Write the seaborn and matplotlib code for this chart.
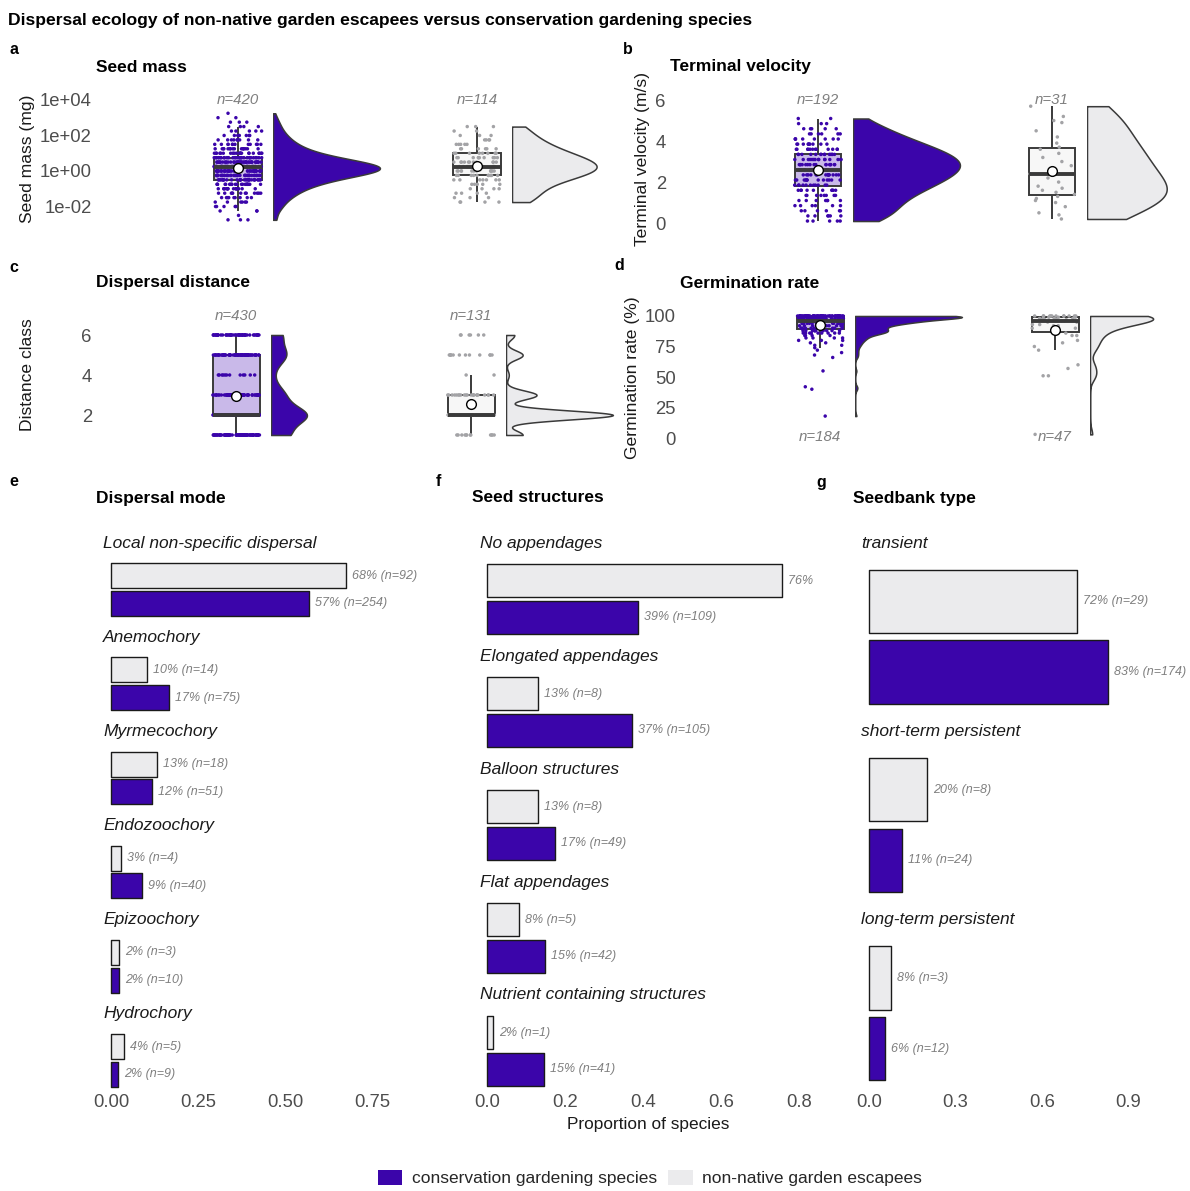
import numpy as np
import pandas as pd
import matplotlib.pyplot as plt
import matplotlib.transforms as mtransforms
from matplotlib.patches import Patch
import seaborn as sns

W, H = 1190, 1191

PURPLE = "#3B05AA"
PURPLE_BOX = "#C9B9E9"
GREY = "#EBEBED"
GREY_BOX = "#F7F7F7"
GREY_PT = "#A3A3A6"
EDGE = "#3A3A3A"
TICK = "#4D4D4D"
NCOL = "#7F7F7F"

GROUPS = ["conservation gardening species", "non-native garden escapees"]

# ---------------- data ----------------
# a: seed mass, log10(mg) bin centres and number of species per bin
mass_cons_bins = [-2.75, -2.5, -2.25, -2.0, -1.75, -1.5, -1.25, -1.0, -0.75, -0.5, -0.25, 0.0,
                  0.25, 0.5, 0.75, 1.0, 1.25, 1.5, 1.75, 2.0, 2.25, 2.5, 2.75, 3.0, 3.25]
mass_cons_counts = [3, 1, 3, 5, 6, 9, 12, 16, 22, 30, 42, 55, 58, 45, 32, 22, 16, 12, 9, 7, 5, 4, 3, 2, 1]
mass_alien_bins = [-1.75, -1.5, -1.25, -1.0, -0.75, -0.5, -0.25, 0.0, 0.25, 0.5, 0.75, 1.0,
                   1.25, 1.5, 1.75, 2.0, 2.25, 2.5]
mass_alien_counts = [4, 3, 4, 4, 5, 7, 10, 12, 13, 11, 10, 8, 6, 5, 4, 3, 2, 3]

# b: terminal velocity (m/s)
vel_cons_bins = [0.1, 0.35, 0.6, 0.85, 1.1, 1.35, 1.6, 1.85, 2.1, 2.35, 2.6, 2.85, 3.1, 3.35,
                 3.6, 3.85, 4.1, 4.35, 4.6, 4.85, 5.1]
vel_cons_counts = [5, 6, 6, 6, 7, 8, 10, 11, 13, 14, 15, 16, 15, 14, 12, 10, 8, 6, 5, 3, 2]
vel_alien_values = [0.2, 0.4, 0.5, 0.8, 1.0, 1.1, 1.2, 1.3, 1.4, 1.5, 1.6, 1.7, 1.8, 2.0, 2.2, 2.4,
                    2.5, 2.6, 2.8, 3.0, 3.2, 3.4, 3.6, 3.7, 3.9, 4.2, 4.5, 4.9, 5.0, 5.2, 5.7]

# c: dispersal distance class
dist_classes = [1, 2, 3, 4, 5, 6]
dist_cons_counts = [80, 160, 60, 12, 68, 50]
dist_alien_counts = [12, 77, 22, 2, 12, 6]

# d: germination rate (%)
germ_cons_values = [18, 40, 42, 55, 66, 68, 70, 72, 74, 76, 78, 80, 82, 84, 86, 88, 90, 92, 94, 96, 98, 100]
germ_cons_counts = [1, 1, 1, 1, 1, 1, 1, 1, 1, 2, 2, 3, 4, 4, 10, 12, 8, 10, 16, 22, 25, 57]
germ_alien_values = [3, 51, 57, 60, 72, 75, 78, 80, 84, 86, 88, 90, 92, 93, 95, 96, 97, 98, 99, 100]
germ_alien_counts = [1, 2, 1, 1, 1, 1, 1, 1, 2, 1, 1, 2, 2, 2, 2, 3, 4, 4, 3, 12]

# e-g: proportion of species per category
mode_cats = ["Local non-specific dispersal", "Anemochory", "Myrmecochory", "Endozoochory",
             "Epizoochory", "Hydrochory"]
mode_alien_prop = [0.676, 0.104, 0.132, 0.030, 0.022, 0.037]
mode_alien_n = [92, 14, 18, 4, 3, 5]
mode_cons_prop = [0.570, 0.168, 0.118, 0.090, 0.022, 0.020]
mode_cons_n = [254, 75, 51, 40, 10, 9]

struct_cats = ["No appendages", "Elongated appendages", "Balloon structures", "Flat appendages",
               "Nutrient containing structures"]
struct_alien_prop = [0.756, 0.131, 0.130, 0.082, 0.016]
struct_alien_n = [47, 8, 8, 5, 1]
struct_cons_prop = [0.387, 0.372, 0.174, 0.149, 0.146]
struct_cons_n = [109, 105, 49, 42, 41]

bank_cats = ["transient", "short-term persistent", "long-term persistent"]
bank_alien_prop = [0.724, 0.200, 0.076]
bank_alien_n = [29, 8, 3]
bank_cons_prop = [0.830, 0.114, 0.057]
bank_cons_n = [174, 24, 12]

TICK_SIZE = 13.3
LABEL_SIZE = 12.6


def rect(x0, y0, x1, y1):
    return [x0 / W, 1 - y1 / H, (x1 - x0) / W, (y1 - y0) / H]


def ftext(fig, x, y, s, **kw):
    fig.text(x / W, 1 - y / H, s, **kw)


def raincloud(fig, box, centers, ylim, cons, alien, bw, n_y, ticks, ticklabels, ylabel, label_x):
    x0, y0, x1, y1 = box
    ax = fig.add_axes(rect(*box))
    df = pd.DataFrame({
        "group": [GROUPS[0]] * len(cons) + [GROUPS[1]] * len(alien),
        "value": np.concatenate([cons, alien]),
    })
    sns.boxplot(data=df, x="group", y="value", hue="group", order=GROUPS, hue_order=GROUPS,
                palette=[PURPLE_BOX, GREY_BOX], saturation=1, width=0.2, linecolor=EDGE,
                linewidth=1.4, showfliers=False, showcaps=False, showmeans=True,
                meanprops=dict(marker="o", markerfacecolor="white", markeredgecolor="black",
                               markersize=7, markeredgewidth=1.0),
                medianprops=dict(linewidth=2.8), legend=False, ax=ax)
    sns.stripplot(data=df, x="group", y="value", hue="group", order=GROUPS, hue_order=GROUPS,
                  palette=[PURPLE, GREY_PT], jitter=0.1, size=2.5, linewidth=0,
                  legend=False, ax=ax, zorder=3)
    for c in ax.containers:
        for m in getattr(c, "medians", []):
            m.set_zorder(4)
        for m in getattr(c, "means", []):
            m.set_zorder(5)

    # half violins to the right of each box
    vaxes = []
    for i, (vals, fc) in enumerate([(cons, PURPLE), (alien, GREY)]):
        cx = centers[i]
        axv = fig.add_axes(rect(cx + 35, y0, cx + 35 + 108, y1), sharey=ax)
        sns.kdeplot(y=vals, ax=axv, fill=True, cut=0, bw_adjust=bw[i], facecolor=fc,
                    edgecolor=EDGE, linewidth=1.1, alpha=1)
        axv.axis("off")
        vaxes.append(axv)
    dmax = 0
    for axv in vaxes:
        for coll in axv.collections:
            for p in coll.get_paths():
                if len(p.vertices):
                    dmax = max(dmax, p.vertices[:, 0].max())
    for axv in vaxes:
        axv.set_xlim(0, dmax * 1.01)

    for i, vals in enumerate([cons, alien]):
        ax.text(i, n_y, f"n={len(vals)}", ha="center", va="center", style="italic",
                color=NCOL, fontsize=10.8, zorder=6)

    s = centers[1] - centers[0]
    ax.set_xlim((x0 - centers[0]) / s, (x1 - centers[0]) / s)
    ax.set_ylim(*ylim)
    ax.set_xticks([])
    ax.set_xlabel("")
    ax.set_yticks(ticks, ticklabels)
    ax.tick_params(axis="y", length=0, pad=3, labelsize=TICK_SIZE, labelcolor=TICK)
    ax.set_ylabel(ylabel, fontsize=LABEL_SIZE, color="#1A1A1A")
    # label_x is the right edge of the rotated label
    ax.yaxis.set_label_coords((label_x - x0) / (x1 - x0), 0.5)
    sns.despine(ax=ax, left=True, bottom=True)
    return ax


def bar_panel(fig, x0, x1, cats, alien_p, alien_n, cons_p, cons_n, xlim, ticks, ticklabels,
              xlabel=None):
    n = len(cats)
    gap = 33
    top, bottom = 559, 1091
    h = (bottom - top - (n - 1) * gap) / n
    order = [GROUPS[1], GROUPS[0]]
    for k, cat in enumerate(cats):
        y0 = top + k * (h + gap)
        ax = fig.add_axes(rect(x0, y0, x1, y0 + h))
        df = pd.DataFrame({"group": order, "prop": [alien_p[k], cons_p[k]],
                           "n": [alien_n[k], cons_n[k]]})
        sns.barplot(data=df, x="prop", y="group", hue="group", order=order, hue_order=GROUPS,
                    palette=[PURPLE, GREY], saturation=1, width=0.9, edgecolor="#1A1A1A",
                    linewidth=1.0, legend=False, orient="h", ax=ax)
        for bar in ax.patches:
            bar.set_joinstyle("round")
        off = mtransforms.offset_copy(ax.transData, fig=fig, x=6, y=0, units="dots")
        for j, (p, cnt) in enumerate(zip(df["prop"], df["n"])):
            ax.text(p, j, f"{round(p * 100)}% (n={cnt})", transform=off, ha="left",
                    va="center", style="italic", color=NCOL, fontsize=9, clip_on=True)
        ax.annotate(cat, xy=(0, 1), xycoords="axes fraction", xytext=(0, 16),
                    textcoords="offset pixels", ha="left", va="center", style="italic",
                    fontsize=12.5, color="#1A1A1A")
        ax.set_xlim(*xlim)
        ax.set_ylim(1.6, -0.6)
        ax.set_yticks([])
        ax.set_ylabel("")
        ax.set_xlabel("")
        sns.despine(ax=ax, left=True, bottom=True)
        if k == n - 1:
            ax.set_xticks(ticks, ticklabels)
            ax.tick_params(axis="x", length=0, pad=2.5, labelsize=TICK_SIZE, labelcolor=TICK)
            if xlabel:
                ax.set_xlabel(xlabel, fontsize=12.4, color="#1A1A1A", labelpad=4)
        else:
            ax.set_xticks([])


sns.set_theme(style="white")
plt.rcParams["font.family"] = ["Liberation Sans", "DejaVu Sans"]
np.random.seed(3)

fig = plt.figure(figsize=(W / 100, H / 100), dpi=100)

bold = dict(family=["Liberation Sans", "DejaVu Sans"], weight="bold", color="black")
ftext(fig, 8, 20, "Dispersal ecology of non-native garden escapees versus conservation gardening species",
      ha="left", va="center", fontsize=12.6, **bold)
for letter, x, y in [("a", 9, 50), ("b", 623, 50), ("c", 9, 267), ("d", 614, 266),
                     ("e", 9, 482), ("f", 436, 482), ("g", 816, 482)]:
    ftext(fig, x, y, letter, ha="left", va="center", fontsize=11.5, **bold)
for title, x, y in [("Seed mass", 96, 67), ("Terminal velocity", 670, 67),
                    ("Dispersal distance", 96, 283), ("Germination rate", 680, 283),
                    ("Dispersal mode", 96, 498), ("Seed structures", 472, 498),
                    ("Seedbank type", 853, 498)]:
    ftext(fig, x, y, title, ha="left", va="center", fontsize=12.5, **bold)

# a
raincloud(fig, (96, 90, 600, 228), (238, 477), (-3.21, 4.56),
          np.repeat(mass_cons_bins, mass_cons_counts), np.repeat(mass_alien_bins, mass_alien_counts),
          (0.9, 1.0), 4.0, [-2, 0, 2, 4], ["1e-02", "1e+00", "1e+02", "1e+04"],
          "Seed mass (mg)", 35)
# b
raincloud(fig, (670, 90, 1188, 228), (818, 1052), (-0.24, 6.49),
          np.repeat(vel_cons_bins, vel_cons_counts), np.array(vel_alien_values, float),
          (1.0, 1.0), 6.0, [0, 2, 4, 6], ["0", "2", "4", "6"],
          "Terminal velocity (m/s)", 650)
# c
raincloud(fig, (96, 305, 610, 445), (236, 471), (0.5, 7.5),
          np.repeat(dist_classes, dist_cons_counts).astype(float),
          np.repeat(dist_classes, dist_alien_counts).astype(float),
          (0.9, 0.47), 6.95, [2, 4, 6], ["2", "4", "6"], "Distance class", 35)
# d
raincloud(fig, (680, 305, 1188, 450), (820, 1055), (-9.8, 109),
          np.repeat(germ_cons_values, germ_cons_counts).astype(float),
          np.repeat(germ_alien_values, germ_alien_counts).astype(float),
          (0.5, 0.55), 0.5, [0, 25, 50, 75, 100], ["0", "25", "50", "75", "100"],
          "Germination rate (%)", 640)

# e, f, g
bar_panel(fig, 103, 440, mode_cats, mode_alien_prop, mode_alien_n, mode_cons_prop, mode_cons_n,
          (-0.023, 0.945), [0, 0.25, 0.5, 0.75], ["0.00", "0.25", "0.50", "0.75"])
bar_panel(fig, 480, 816, struct_cats, struct_alien_prop, struct_alien_n, struct_cons_prop,
          struct_cons_n, (-0.018, 0.844), [0, 0.2, 0.4, 0.6, 0.8],
          ["0.0", "0.2", "0.4", "0.6", "0.8"], xlabel="Proportion of species")
bar_panel(fig, 861, 1190, bank_cats, bank_alien_prop, bank_alien_n, bank_cons_prop, bank_cons_n,
          (-0.028, 1.115), [0, 0.3, 0.6, 0.9], ["0.0", "0.3", "0.6", "0.9"])

handles = [Patch(facecolor=PURPLE, edgecolor="none"), Patch(facecolor=GREY, edgecolor="none")]
fig.legend(handles, GROUPS, loc="center", bbox_to_anchor=(650 / W, 1 - 1178 / H), ncol=2,
           frameon=False, fontsize=12.5, handlelength=1.4, handleheight=0.95,
           handletextpad=0.55, columnspacing=0.65)

fig.savefig("out.png", dpi=100)
